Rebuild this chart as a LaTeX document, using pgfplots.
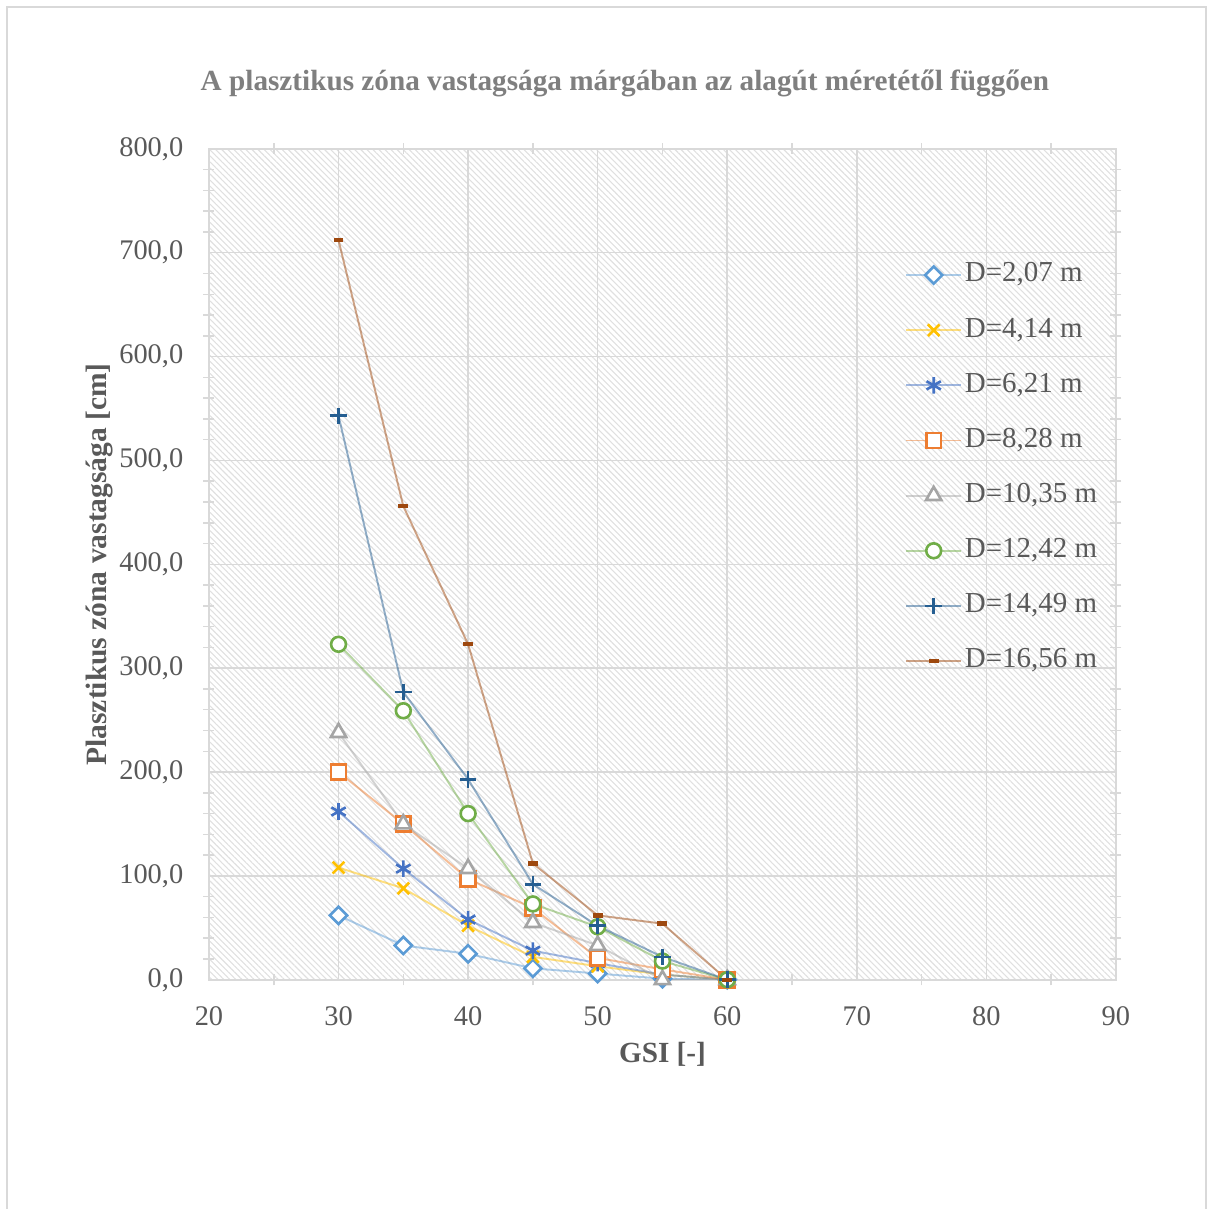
\documentclass[border=0pt]{standalone}
\usepackage{fontspec}
\setmainfont{Liberation Serif}
\usepackage{pgfplots}
\pgfplotsset{compat=1.18}
\usetikzlibrary{patterns.meta}
\definecolor{c1}{HTML}{5B9BD5}
\definecolor{c2}{HTML}{FFC000}
\definecolor{c3}{HTML}{4472C4}
\definecolor{c4}{HTML}{ED7D31}
\definecolor{c5}{HTML}{A5A5A5}
\definecolor{c6}{HTML}{70AD47}
\definecolor{c7}{HTML}{255E91}
\definecolor{c8}{HTML}{9E480E}
\definecolor{tickgray}{HTML}{595959}
\definecolor{titlegray}{HTML}{7F7F7F}
\definecolor{gridgray}{HTML}{D9D9D9}
\begin{document}
\begin{tikzpicture}
\useasboundingbox (0pt,0pt) rectangle (440pt,438.5pt);
\draw[gridgray, line width=0.7pt] (2.5pt,-3pt) rectangle (437.5pt,436pt);
\begin{axis}[
  at={(75.8pt,83.1pt)}, anchor=south west,
  scale only axis, width=329pt, height=301.4pt,
  xmin=20, xmax=90, ymin=0, ymax=800,
  xtick={20,30,...,90}, ytick={0,100,...,800},
  minor x tick num=1, minor y tick num=4,
  grid=major,
  major grid style={gridgray, line width=0.55pt},
  axis line style={gridgray, line width=0.55pt},
  tick style={gridgray, line width=0.55pt},
  major tick length=0pt, minor tick length=4pt, tick align=center,
  axis background/.style={pattern={Lines[angle=-45,distance=1.55pt,line width=0.4pt]}, pattern color=black!12},
  /pgf/number format/assume math mode=true,
  ticklabel style={font=\fontsize{10.3}{12}\selectfont, text=tickgray},
  xticklabel style={yshift=-6.1pt},
  yticklabel style={xshift=-5.8pt, /pgf/number format/.cd, fixed, fixed zerofill, precision=1, use comma, 1000 sep={}},
  title={A plasztikus zóna vastagsága márgában az alagút méretétől függően},
  title style={at={(axis description cs:0.4587,1.059)}, anchor=center, yshift=0pt, font=\bfseries\fontsize{10.6}{12}\selectfont, text=titlegray},
  xlabel={GSI [-]},
  xlabel style={at={(axis description cs:0.5,-0.0902)}, anchor=center, font=\bfseries\fontsize{10.6}{12}\selectfont, text=tickgray},
  ylabel={Plasztikus zóna vastagsága [cm]},
  ylabel style={at={(axis description cs:-0.121,0.5)}, anchor=center, font=\bfseries\fontsize{10.7}{12}\selectfont, text=tickgray},
  legend style={draw=none, fill=none, at={(0.767,0.867)}, anchor=north west, inner sep=0pt,
    font=\fontsize{10.5}{12}\selectfont, text=tickgray, row sep=9pt,
    nodes={inner sep=1pt, text height=7pt, text depth=2pt}},
  legend cell align=left,
  legend image code/.code={\draw[mark repeat=2,mark phase=2] plot coordinates {(0pt,0pt)(10pt,0pt)(20pt,0pt)};},
  every axis plot/.append style={line width=0.7pt, draw opacity=0.5},
]
\addplot[c1, mark=square*, mark size=2.2pt, mark options={rotate=45, draw opacity=1, fill=white, line width=0.95pt}]
  coordinates {(30,62)(35,33)(40,25)(45,11)(50,6)(55,1)(60,0)};
\addlegendentry{D=2,07 m}
\addplot[c2, mark=x, mark size=3pt, mark options={draw opacity=1, line width=0.95pt}]
  coordinates {(30,108)(35,88)(40,52)(45,22)(50,13)(55,5)(60,0)};
\addlegendentry{D=4,14 m}
\addplot[c3, mark=asterisk, mark size=3pt, mark options={draw opacity=1, line width=0.95pt}]
  coordinates {(30,162)(35,107)(40,58)(45,28)(50,16)(55,5)(60,0)};
\addlegendentry{D=6,21 m}
\addplot[c4, mark=square*, mark size=2.7pt, mark options={draw opacity=1, fill=white, line width=0.95pt}]
  coordinates {(30,200)(35,150)(40,97)(45,69)(50,21)(55,10)(60,0)};
\addlegendentry{D=8,28 m}
\addplot[c5, mark=triangle*, mark size=3.2pt, mark options={draw opacity=1, fill=white, line width=0.95pt}]
  coordinates {(30,238)(35,150)(40,107)(45,55)(50,33)(55,0)(60,0)};
\addlegendentry{D=10,35 m}
\addplot[c6, mark=*, mark size=2.7pt, mark options={draw opacity=1, fill=white, line width=0.95pt}]
  coordinates {(30,323)(35,259)(40,160)(45,73)(50,51)(55,18)(60,0)};
\addlegendentry{D=12,42 m}
\addplot[c7, mark=+, mark size=3pt, mark options={draw opacity=1, line width=0.95pt}]
  coordinates {(30,543)(35,277)(40,193)(45,92)(50,52)(55,22)(60,0)};
\addlegendentry{D=14,49 m}
\addplot[c8, mark=-, mark size=1.8pt, mark options={draw opacity=1, line width=1.6pt}]
  coordinates {(30,712)(35,456)(40,323)(45,112)(50,62)(55,54)(60,0)};
\addlegendentry{D=16,56 m}
\end{axis}
\end{tikzpicture}
\end{document}
